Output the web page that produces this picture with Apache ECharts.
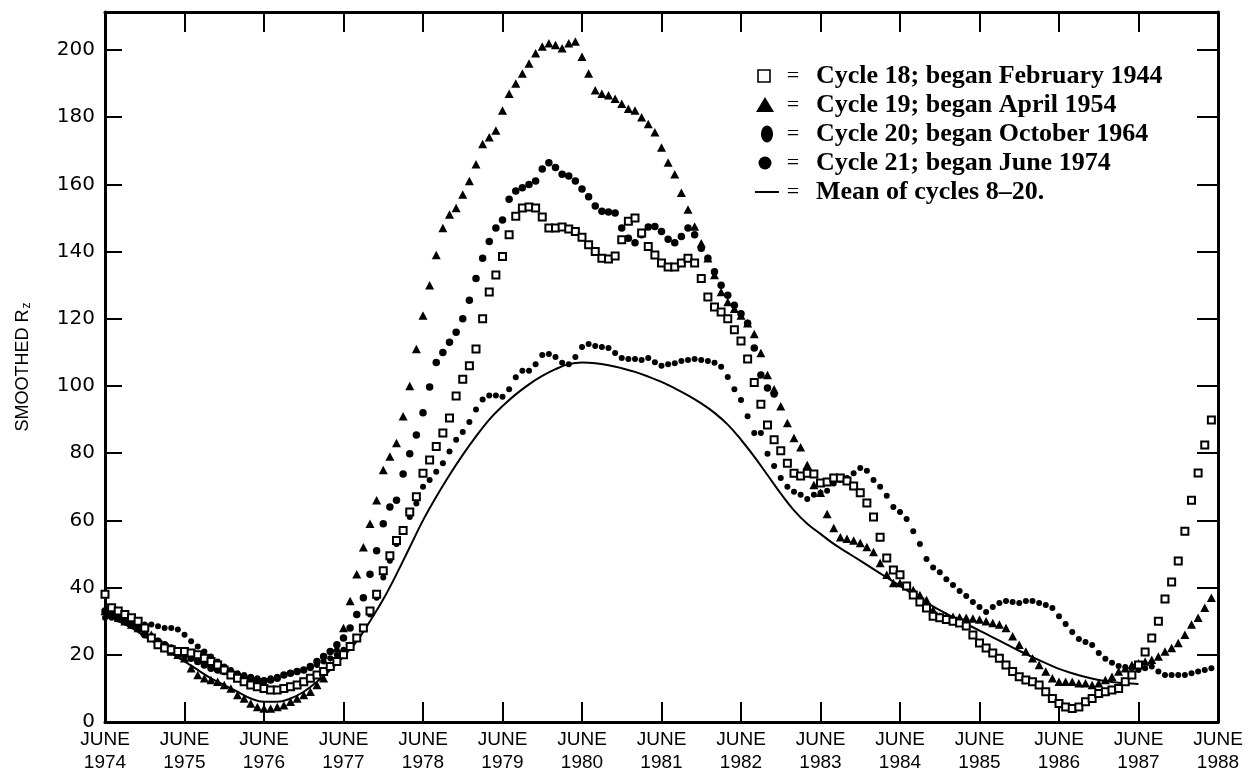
<!DOCTYPE html>
<html><head><meta charset="utf-8">
<script src="https://cdn.jsdelivr.net/npm/echarts@6/dist/echarts.min.js"></script>
<style>html,body{margin:0;padding:0;background:#fff}#c{width:1253px;height:778px}</style>
</head><body><div id="c"></div>
<script>
// x axis: months counted from June 1974 (0) to June 1988 (168)
const tickLabels = ['JUNE\n1974','JUNE\n1975','JUNE\n1976','JUNE\n1977','JUNE\n1978','JUNE\n1979','JUNE\n1980','JUNE\n1981','JUNE\n1982','JUNE\n1983','JUNE\n1984','JUNE\n1985','JUNE\n1986','JUNE\n1987','JUNE\n1988'];

// Cycle 18 (began February 1944), monthly from month 0
const cycle18 = [
 38, 34, 33, 32, 31, 30, 28, 25, 23, 22, 21.5, 21,
 21, 20.5, 20, 19, 18, 17, 15.5, 14, 13, 12, 11, 10.5,
 10, 9.5, 9.5, 10, 10.5, 11, 12, 13, 14, 15, 16.5, 18,
 20, 22.5, 25, 28, 33, 38, 45, 49.5, 54, 57, 62.5, 67,
 74, 78, 82, 86, 90.5, 97, 102, 106, 111, 120, 128, 133,
 138.5, 145, 150.5, 153, 153.3, 153, 150.3, 147, 147, 147.3, 146.7, 146,
 144.3, 142, 140, 138, 137.8, 138.7, 143.5, 149, 150, 145.5, 141.5, 139,
 136.6, 135.4, 135.4, 136.6, 138, 136.6, 132, 126.5, 123.5, 122, 120, 116.7,
 113.4, 108, 101, 94.6, 88.4, 84, 80.7, 77, 74, 73.2, 74, 73.8,
 71.1, 71.4, 72.6, 72.6, 71.7, 70.2, 68.2, 65.2, 61, 55, 48.8, 45.2,
 43.8, 40.5, 37.8, 35.7, 33.9, 31.5, 31, 30.5, 30, 29.5, 28.6, 25.9,
 23.5, 22, 20.5, 19, 17, 15, 13.5, 12.5, 12, 11, 9, 7,
 5.5, 4.5, 4, 4.5, 6, 7, 8.5, 9, 9.5, 10, 12, 14,
 17, 20.8, 25, 30, 36.6, 41.7, 47.9, 56.8, 66, 74.1, 82.4, 89.9
];

// Cycle 19 (began April 1954)
const cycle19 = [
 33, 32, 31, 30, 29, 28, 27, 26, 24, 23, 21, 20,
 19, 16, 14, 13, 12.5, 12, 11, 10, 8, 7, 5.5, 4.5,
 4, 4, 4.5, 5, 6, 7, 8, 9, 11, 13, 17, 22,
 28, 36, 44, 52, 59, 66, 75, 79, 83, 91, 100, 111,
 121, 130, 139, 147, 151, 153, 157, 161, 166, 172, 174, 176,
 182, 187, 190, 193, 196, 199, 201, 202, 201.5, 200.5, 202, 202.5,
 198, 193, 188, 187, 186.5, 185.5, 184, 182.5, 182, 180, 178, 175.5,
 171, 166.5, 163, 157.5, 152.5, 147.5, 142.5, 138, 133, 128, 125, 123,
 121, 118.7, 115.5, 109.8, 103.3, 99, 94, 89, 84.5, 81.8, 76.5, 70.5,
 68.2, 61.9, 57.7, 55, 54.5, 54, 53.3, 52.1, 50.6, 47.3, 43.8, 41.4,
 41.4, 40.5, 39.3, 37.8, 36.3, 33.3, 31.5, 31.5, 31.3, 31.2, 31, 30.8,
 30.5, 30, 29.5, 29, 28, 25.5, 23, 21, 19, 17, 15, 13,
 12, 12, 12, 11.5, 11.5, 11, 11.5, 12.5, 13.5, 15, 16, 17,
 17.5, 18, 18.5, 19.5, 21, 22, 23.5, 26, 29, 31, 34, 37
];

// Cycle 20 (began October 1964)
const cycle20 = [
 31, 31, 30.5, 30, 30, 29.5, 29, 29, 28.5, 28, 28, 27.5,
 26, 24, 22.5, 21, 19.5, 18, 16.5, 15.5, 14.5, 14, 13.5, 13,
 12.5, 13, 13.5, 14, 14.5, 15, 15.5, 16, 17, 18, 19, 20,
 21.5, 23, 25, 28, 32, 37, 43, 48, 53, 57, 61, 65,
 70, 72, 74.5, 77, 80.5, 84, 86.3, 89.3, 93, 96, 97.2, 97.2,
 96.8, 99, 102.6, 104.5, 104.5, 106.5, 109.2, 109.5, 108.6, 106.9, 106.5, 108.6,
 111.6, 112.5, 111.9, 111.6, 111.3, 109.8, 108.3, 108, 108, 107.7, 108.3, 107.1,
 106, 106.5, 106.8, 107.4, 107.7, 108, 107.7, 107.4, 106.9, 105.7, 102.7, 99,
 95.8, 91, 86, 86, 79.8, 76.2, 72.6, 70, 68.5, 67.6, 66.4, 67.6,
 68.2, 68.8, 71, 72, 72.6, 74, 75.6, 74.8, 72, 70, 67.3, 64,
 62.5, 60.4, 56.8, 53, 48.5, 46, 44.6, 42.5, 40.8, 39, 37.5, 35.7,
 34.2, 32.7, 34.2, 35.4, 36, 35.7, 35.4, 36, 36, 35.4, 34.8, 33.9,
 31.5, 29.2, 26.8, 24.7, 23.8, 22.9, 20.5, 18.8, 17.6, 16.7, 16.4, 16,
 15.5, 16, 16.5, 15, 14, 14, 14, 14, 14.5, 15, 15.5, 16
];

// Cycle 21 (began June 1974)
const cycle21 = [
 33, 32, 31, 30, 29, 28, 26, 25, 24, 23, 22, 21,
 20, 19, 18, 17, 16, 15.5, 15, 14.5, 14, 13.5, 13, 12.5,
 12.2, 12.5, 13, 14, 14.5, 15, 15.5, 16.5, 18, 19.5, 21, 23,
 25, 28, 32, 37, 44, 51, 59, 64, 66, 73.8, 79.8, 85.4,
 92, 99.7, 107, 110, 113, 116, 120, 125.5, 132, 138, 143, 147,
 149.4, 155.6, 158, 159, 160, 161, 164.6, 166.4, 165, 163, 162.5, 161,
 158.6, 156.3, 153.6, 152, 151.8, 151.5, 147, 144, 142.6, 145, 147.3, 147.5,
 146, 143.7, 142.6, 144.5, 147, 145, 141, 138, 134, 130, 127, 124,
 121.5, 118.7, 111.3, 103.3, 99.4, 97.6
];

// Mean of cycles 8-20 (every second month)
const meanMonths = [0,2,4,6,8,10,12,14,16,18,20,22,24,26,28,30,32,34,36,38,40,42,44,46,48,50,52,54,56,58,60,62,64,66,68,70,72,74,76,78,80,82,84,86,88,90,92,94,96,98,100,102,104,106,108,110,112,114,116,118,120,122,124,126,128,130,132,134,136,138,140,142,144,146,148,150,152,154,156];
const meanValues = [32,30,28,25.5,23,20.5,18,15.5,13,11,9,7,6,6,7,9,12,15.5,19.5,24,30,36.5,44,52,60,67,73.5,79.5,85,90,94,97.5,100.5,103,105,106.5,107,106.8,106.2,105.3,104.2,102.8,101.2,99.3,97.2,94.8,92,88.5,84,79,73.5,68,63,59,56,53,50.5,48,45.5,43,40.5,38,35.5,33.3,31.2,29.2,27.2,25.2,23.2,21.2,19.3,17.5,15.8,14.5,13.4,12.5,11.9,11.5,11.3];

const legendLabels = ['Cycle 18; began February 1944','Cycle 19; began April 1954','Cycle 20; began October 1964','Cycle 21; began June 1974','Mean of cycles 8\u201320.'];

const toPairs = (arr) => arr.map((v, i) => [i, v]);

const chart = echarts.init(document.getElementById('c'), null, {renderer: 'canvas'});

const axisLineStyle = {color: '#000', width: 3};
const tickStyle = {color: '#000', width: 2};

// legend drawn with graphic elements
const legX = 764, legRows = [76, 105, 134, 163, 192];
const graphics = [];
graphics.push({type:'rect', shape:{x:legX-6, y:legRows[0]-6, width:12, height:12}, style:{fill:'#fff', stroke:'#000', lineWidth:1.6}});
graphics.push({type:'polygon', shape:{points:[[legX-8,legRows[1]+7],[legX+10,legRows[1]+7],[legX+1,legRows[1]-8]]}, style:{fill:'#000'}});
graphics.push({type:'ellipse', shape:{cx:legX+3, cy:legRows[2], rx:6, ry:8.5}, style:{fill:'#000'}});
graphics.push({type:'circle', shape:{cx:legX+1, cy:legRows[3], r:6.5}, style:{fill:'#000'}});
graphics.push({type:'line', shape:{x1:legX-9, y1:legRows[4], x2:legX+15, y2:legRows[4]}, style:{stroke:'#000', lineWidth:2}});
legendLabels.forEach((t, i) => {
  graphics.push({type:'text', x:793, y:legRows[i], style:{text:'=', font:'22px "Liberation Serif"', fill:'#000', textAlign:'center', textVerticalAlign:'middle'}});
  graphics.push({type:'text', x:816, y:legRows[i], style:{text:t, font:'bold 26px "Liberation Serif"', fill:'#000', textAlign:'left', textVerticalAlign:'middle'}});
});

const xBase = {
  type: 'value', min: 0, max: 168, interval: 12,
  axisLine: {show: true, onZero: false, lineStyle: axisLineStyle},
  axisTick: {show: true, inside: true, length: 20, lineStyle: tickStyle},
  splitLine: {show: false}
};
const yBase = {
  type: 'value', min: 0, max: 211.3, interval: 20,
  axisLine: {show: true, onZero: false, lineStyle: axisLineStyle},
  splitLine: {show: false}
};

chart.setOption({
  animation: false,
  backgroundColor: '#fff',
  grid: {left: 105, right: 35, top: 12, bottom: 56},
  xAxis: [
    Object.assign({}, xBase, {position: 'bottom',
      axisLabel: {color: '#000', fontFamily: 'Liberation Sans', fontSize: 19, lineHeight: 23, margin: 6,
        formatter: (v) => tickLabels[Math.round(v / 12)] || ''}}),
    Object.assign({}, xBase, {position: 'top', axisLabel: {show: false}})
  ],
  yAxis: [
    Object.assign({}, yBase, {position: 'left',
      axisTick: {show: true, inside: true, length: 17, lineStyle: tickStyle},
      axisLabel: {color: '#000', fontFamily: 'DejaVu Sans', fontSize: 20, margin: 10, showMaxLabel: false},
      name: '{a|SMOOTHED R}{b|z}', nameLocation: 'middle', nameRotate: 90, nameGap: 72,
      nameTextStyle: {rich: {a: {fontFamily: 'Liberation Sans', fontSize: 18, color: '#000'},
                             b: {fontFamily: 'Liberation Sans', fontSize: 12, color: '#000', padding: [8, 0, 0, 1]}}}}),
    Object.assign({}, yBase, {position: 'right',
      axisTick: {show: true, inside: true, length: 21, lineStyle: tickStyle},
      axisLabel: {show: false}})
  ],
  graphic: graphics,
  series: [
    {name: 'Mean', type: 'line', smooth: 0.4, showSymbol: false, symbol: 'none',
     data: meanMonths.map((m, i) => [m, meanValues[i]]),
     lineStyle: {color: '#000', width: 2}, z: 1},
    {name: 'Cycle 20', type: 'scatter', data: toPairs(cycle20), symbol: 'circle', symbolSize: 6,
     itemStyle: {color: '#000', opacity: 1}, z: 2},
    {name: 'Cycle 21', type: 'scatter', data: toPairs(cycle21), symbol: 'circle', symbolSize: 7.5,
     itemStyle: {color: '#000', opacity: 1}, z: 2},
    {name: 'Cycle 19', type: 'scatter', data: toPairs(cycle19), symbol: 'triangle', symbolSize: [9, 8.5],
     itemStyle: {color: '#000', opacity: 1}, z: 3},
    {name: 'Cycle 18', type: 'scatter', data: toPairs(cycle18), symbol: 'rect', symbolSize: 7,
     itemStyle: {color: '#fff', borderColor: '#000', borderWidth: 2, opacity: 1}, z: 4}
  ]
});
</script>
</body></html>
